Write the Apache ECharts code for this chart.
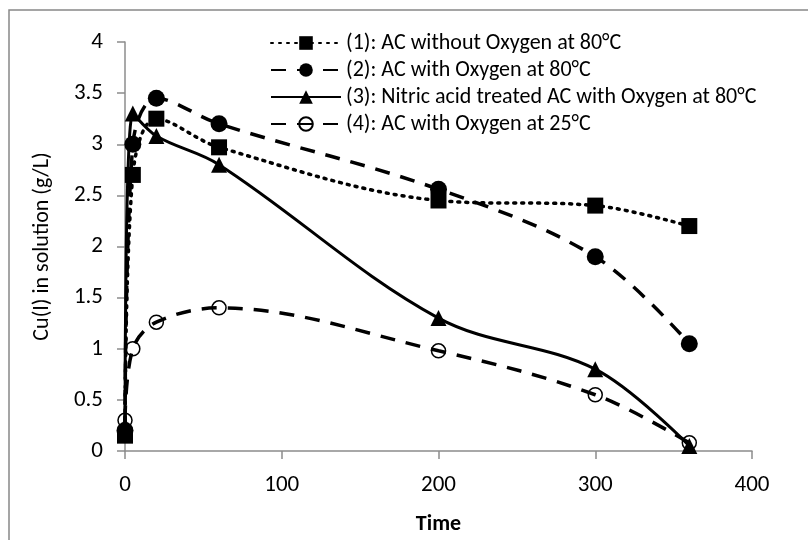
<!DOCTYPE html>
<html>
<head>
<meta charset="utf-8">
<script src="https://cdn.jsdelivr.net/npm/echarts@6/dist/echarts.min.js"></script>
<style>
  html, body { margin: 0; padding: 0; background: #fff; }
  #main { width: 808px; height: 540px; }
</style>
</head>
<body>
<div id="main"></div>
<script>
// time values (shared by all series)
var times = [0, 5, 20, 60, 200, 300, 360];

// Cu(I) in solution (g/L)
var acNoOxygen80 = [0.15, 2.7, 3.25, 2.97, 2.45, 2.4, 2.2];
var acOxygen80 = [0.2, 3.0, 3.45, 3.2, 2.56, 1.9, 1.05];
var nitricAcOxygen80 = [0.25, 3.3, 3.08, 2.8, 1.3, 0.8, 0.05];
var acOxygen25 = [0.3, 1.0, 1.26, 1.4, 0.98, 0.55, 0.08];

var seriesNames = [
  '(1): AC without Oxygen at 80°C',
  '(2): AC with Oxygen at 80°C',
  '(3): Nitric acid treated AC with Oxygen at 80°C',
  '(4): AC with Oxygen at 25°C'
];

var FONT = 'Carlito, Lato, sans-serif';

function pairs(ys) {
  return times.map(function (t, i) { return [t, ys[i]]; });
}

var myChart = echarts.init(document.getElementById('main'));

var option = {
  backgroundColor: '#fff',
  animation: false,
  textStyle: { fontFamily: FONT, color: '#000' },
  // chart-area border: only top and left edges fall inside the picture
  graphic: [{
    type: 'rect',
    shape: { x: 9, y: 10, width: 900, height: 600 },
    style: { fill: 'none', stroke: '#888', lineWidth: 1.5 },
    silent: true
  }],
  grid: { left: 125, right: 56, top: 42, bottom: 85 },
  legend: {
    orient: 'vertical',
    left: 265,
    top: 27,
    itemWidth: 70,
    itemHeight: 17,
    itemGap: 5,
    textStyle: { fontFamily: FONT, fontSize: 22, lineHeight: 22, color: '#000' },
    data: seriesNames
  },
  xAxis: {
    type: 'value',
    min: 0,
    max: 400,
    interval: 100,
    name: 'Time',
    nameLocation: 'middle',
    nameGap: 62,
    nameTextStyle: { fontFamily: FONT, fontSize: 22, fontWeight: 'bold', color: '#000' },
    axisLine: { show: true, lineStyle: { color: '#8c8c8c', width: 1.5 } },
    axisTick: { show: true, length: 8, lineStyle: { color: '#8c8c8c', width: 1.5 } },
    axisLabel: { fontFamily: FONT, fontSize: 23, color: '#000', margin: 23 },
    splitLine: { show: false }
  },
  yAxis: {
    type: 'value',
    min: 0,
    max: 4,
    interval: 0.5,
    name: 'Cu(I) in solution (g/L)',
    nameLocation: 'middle',
    nameGap: 72,
    nameTextStyle: { fontFamily: FONT, fontSize: 22, color: '#000' },
    axisLine: { show: true, lineStyle: { color: '#8c8c8c', width: 1.5 } },
    axisTick: { show: true, length: 8, lineStyle: { color: '#8c8c8c', width: 1.5 } },
    axisLabel: { fontFamily: FONT, fontSize: 23, color: '#000', margin: 22 },
    splitLine: { show: false }
  },
  series: [
    {
      name: seriesNames[0],
      type: 'line',
      smooth: 0.35,
      symbol: 'rect',
      symbolSize: 16,
      data: pairs(acNoOxygen80),
      lineStyle: { color: '#000', width: 3.5, type: [2, 6], cap: 'round' },
      itemStyle: { color: '#000' }
    },
    {
      name: seriesNames[1],
      type: 'line',
      smooth: 0.35,
      symbol: 'circle',
      symbolSize: 17,
      data: pairs(acOxygen80),
      lineStyle: { color: '#000', width: 3.5, type: [15, 11] },
      itemStyle: { color: '#000' }
    },
    {
      name: seriesNames[2],
      type: 'line',
      smooth: 0.35,
      symbol: 'triangle',
      symbolSize: 16,
      data: pairs(nitricAcOxygen80),
      lineStyle: { color: '#000', width: 3, type: 'solid' },
      itemStyle: { color: '#000' }
    },
    {
      name: seriesNames[3],
      type: 'line',
      smooth: 0.35,
      symbol: 'circle',
      symbolSize: 14,
      data: pairs(acOxygen25),
      lineStyle: { color: '#000', width: 3.5, type: [15, 11] },
      itemStyle: { color: 'rgba(255,255,255,0)', borderColor: '#000', borderWidth: 1.5 }
    }
  ]
};

myChart.setOption(option);
</script>
</body>
</html>
